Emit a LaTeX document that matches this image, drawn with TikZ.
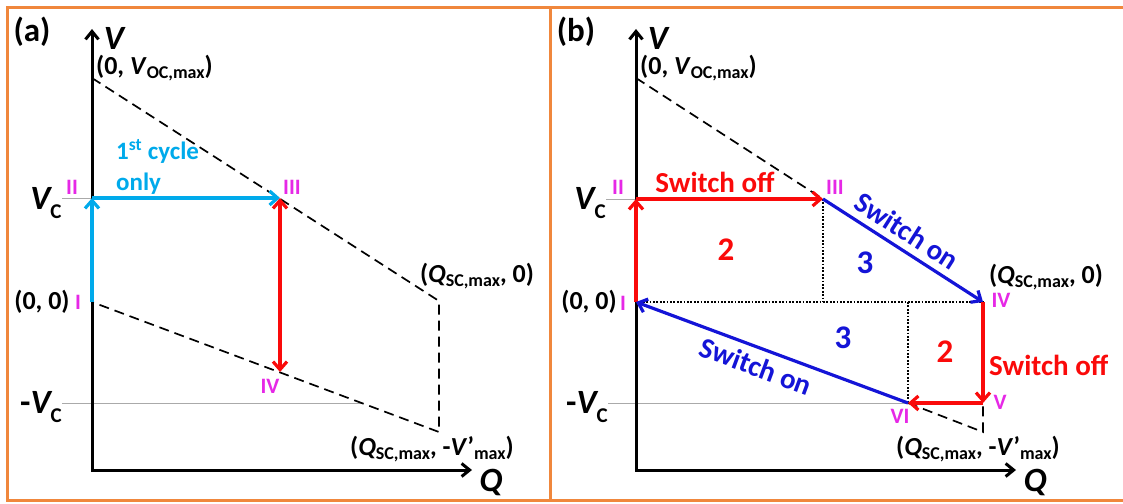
\documentclass[tikz,border=0pt]{standalone}
\usepackage{fontspec}
\setmainfont{Carlito}
\usetikzlibrary{arrows.meta}
\definecolor{bord}{RGB}{240,135,60}
\definecolor{cyanA}{RGB}{0,170,235}
\definecolor{redA}{RGB}{250,10,10}
\definecolor{blueA}{RGB}{20,20,215}
\definecolor{magA}{RGB}{230,40,230}
\definecolor{thin}{RGB}{170,170,170}
\newcommand{\fsz}[1]{\fontsize{#1}{#1}\selectfont}
\newcommand{\lsub}[1]{\raisebox{-0.35ex}{\fsz{18}#1}}
\newcommand{\csub}[1]{\raisebox{-0.55ex}{\fsz{21}#1}}
\begin{document}
\begin{tikzpicture}[x=1pt,y=-1pt,
  every node/.style={inner sep=0pt},
  lbl/.style={font=\fsz{26}\bfseries},
  rn/.style={text=magA, font=\fsz{22}\bfseries},
  swlbl/.style={font=\fsz{29}\bfseries},
  num/.style={font=\fsz{33}\bfseries},
  axlbl/.style={font=\fsz{34}\bfseries\itshape},
  panlbl/.style={font=\fsz{33}\bfseries},
  arrowtip/.style={-{Straight Barb[length=8pt,width=14pt]}},
  bothtips/.style={{Straight Barb[length=8pt,width=14pt]}-{Straight Barb[length=8pt,width=14pt]}},
  axisline/.style={line width=3pt, {Straight Barb[length=8pt,width=13pt]}-{Straight Barb[length=8pt,width=13pt]}},
  cycline/.style={line width=3.2pt, draw=cyanA, arrowtip},
  redline/.style={line width=3.2pt, draw=redA, arrowtip},
  blueline/.style={line width=3.2pt, draw=blueA, arrowtip},
  dashline/.style={line width=1.7pt, dash pattern=on 10pt off 6pt, draw=black},
  dotline/.style={line width=1.7pt, dash pattern=on 1.7pt off 1.7pt, draw=black},
  grayline/.style={line width=0.8pt, draw=thin},
  border/.style={line width=3pt, draw=bord}
]
\useasboundingbox (0,0) rectangle (1123,503);
% borders
\draw[border] (1123,8) -- (7,8) -- (7,500) -- (1123,500);
\draw[border] (550,8) -- (550,500);

% ================= panel (a) =================
\coordinate (aO) at (92,470);
\coordinate (aVtop) at (92,29);
\coordinate (aQend) at (472,470);
\coordinate (aVoc) at (92,78);
\coordinate (aI) at (92,302);
\coordinate (aII) at (92,198);
\coordinate (aIII) at (280,198);
\coordinate (aIV) at (280,372);
\coordinate (aQ0) at (439,301);
\coordinate (aQm) at (439,432);
\coordinate (aVcL) at (62,198);
\coordinate (amVcL) at (62,403);
\coordinate (amVcR) at (361,403);

\draw[grayline] (aVcL) -- (aII);
\draw[grayline] (amVcL) -- (amVcR);
\draw[dashline] (aVoc) -- (aQ0) -- (aQm) -- (aI);
\draw[axisline] (aVtop) |- (aQend);
\draw[cycline] (aI) -- (aII);
\draw[cycline] (aII) -- (aIII);
\draw[line width=3.2pt, draw=redA, bothtips] (aIII) -- (aIV);

\node[panlbl] (alab) at (32,32) {(a)};
\node[axlbl] (aV) at (114,38) {V};
\node[lbl, anchor=west] (aVocL) at (96,68) {(0, \textit{V}\lsub{OC,max})};
\node[lbl, text=cyanA, anchor=west, align=left, font=\fsz{25}\bfseries] (acyc) at (116,167)
  {\rule{0pt}{18pt}1\textsuperscript{st} cycle\\[6pt]only};
\node[rn] (aIIL) at (72,187) {II};
\node[rn] (aIIIL) at (292,187) {III};
\node[axlbl] (aVc) at (46,203) {V\csub{\upshape C}};
\node[lbl] (a00) at (42,302) {(0, 0)};
\node[rn] (aIL) at (78,302) {I};
\node[rn] (aIVL) at (270,386) {IV};
\node[axlbl] (amVc) at (41,407) {\upshape-\itshape V\csub{\upshape C}};
\node[lbl] (aQ0L) at (477,276) {(\textit{Q}\lsub{SC,max}, 0)};
\node[lbl] (aQmL) at (432,449) {(\textit{Q}\lsub{SC,max}, -\textit{V}'\lsub{max})};
\node[axlbl] (aQ) at (491,482) {Q};

% ================= panel (b) =================
\coordinate (bO) at (636,470);
\coordinate (bVtop) at (636,29);
\coordinate (bQend) at (1016,470);
\coordinate (bVoc) at (636,78);
\coordinate (bI) at (636,302);
\coordinate (bII) at (636,199);
\coordinate (bIII) at (823,199);
\coordinate (bIV) at (983,302);
\coordinate (bV) at (983,403);
\coordinate (bVI) at (908,403);
\coordinate (bQm) at (983,432);
\coordinate (bIIIb) at (823,302);
\coordinate (bVIt) at (908,302);
\coordinate (bVcL) at (606,199);
\coordinate (bmVcL) at (608,403);

\draw[grayline] (bVcL) -- (bII);
\draw[grayline] (bmVcL) -- (bVI);
\draw[dashline] (bVoc) -- (bIII);
\draw[dashline] (bVI) -- (bQm) -- (bV);
\draw[dotline] (bI) -- (bIV);
\draw[dotline] (bIII) -- (bIIIb);
\draw[dotline] (bVIt) -- (bVI);
\draw[axisline] (bVtop) |- (bQend);
\draw[redline] (bI) -- (bII);
\draw[redline] (bII) -- (bIII);
\draw[blueline] (bIII) -- (bIV);
\draw[redline] (bIV) -- (bV);
\draw[redline] (bV) -- (bVI);
\draw[blueline] (bVI) -- (bI);

\node[panlbl] (blab) at (576,32) {(b)};
\node[axlbl] (bVlab) at (658,38) {V};
\node[lbl, anchor=west] (bVocL) at (640,68) {(0, \textit{V}\lsub{OC,max})};
\node[rn] (bIIL) at (618,187) {II};
\node[rn] (bIIIL) at (835,187) {III};
\node[axlbl] (bVc) at (590,203) {V\csub{\upshape C}};
\node[lbl] (b00) at (589,302) {(0, 0)};
\node[rn] (bIL) at (623,303) {I};
\node[swlbl, text=redA] (bsw1) at (715,182) {Switch off};
\node[num, text=redA] (bn2a) at (726,250) {2};
\node[num, text=blueA] (bn3a) at (865,263) {3};
\node[swlbl, text=blueA, rotate=-32.5] (bsw2) at (907,231) {Switch on};
\node[lbl] (bQ0L) at (1046,277) {(\textit{Q}\lsub{SC,max}, 0)};
\node[rn] (bIVL) at (1001,300) {IV};
\node[num, text=blueA] (bn3b) at (843,338) {3};
\node[num, text=redA] (bn2b) at (945,352) {2};
\node[swlbl, text=redA, anchor=west] (bsw3) at (989,365) {Switch off};
\node[swlbl, text=blueA, rotate=-20.4] (bsw4) at (756,366) {Switch on};
\node[axlbl] (bmVc) at (587,407) {\upshape-\itshape V\csub{\upshape C}};
\node[rn] (bVL) at (1000,402) {V};
\node[rn] (bVIL) at (900,416) {VI};
\node[lbl] (bQmL) at (978,449) {(\textit{Q}\lsub{SC,max}, -\textit{V}'\lsub{max})};
\node[axlbl] (bQ) at (1035,482) {Q};
\end{tikzpicture}
\end{document}
